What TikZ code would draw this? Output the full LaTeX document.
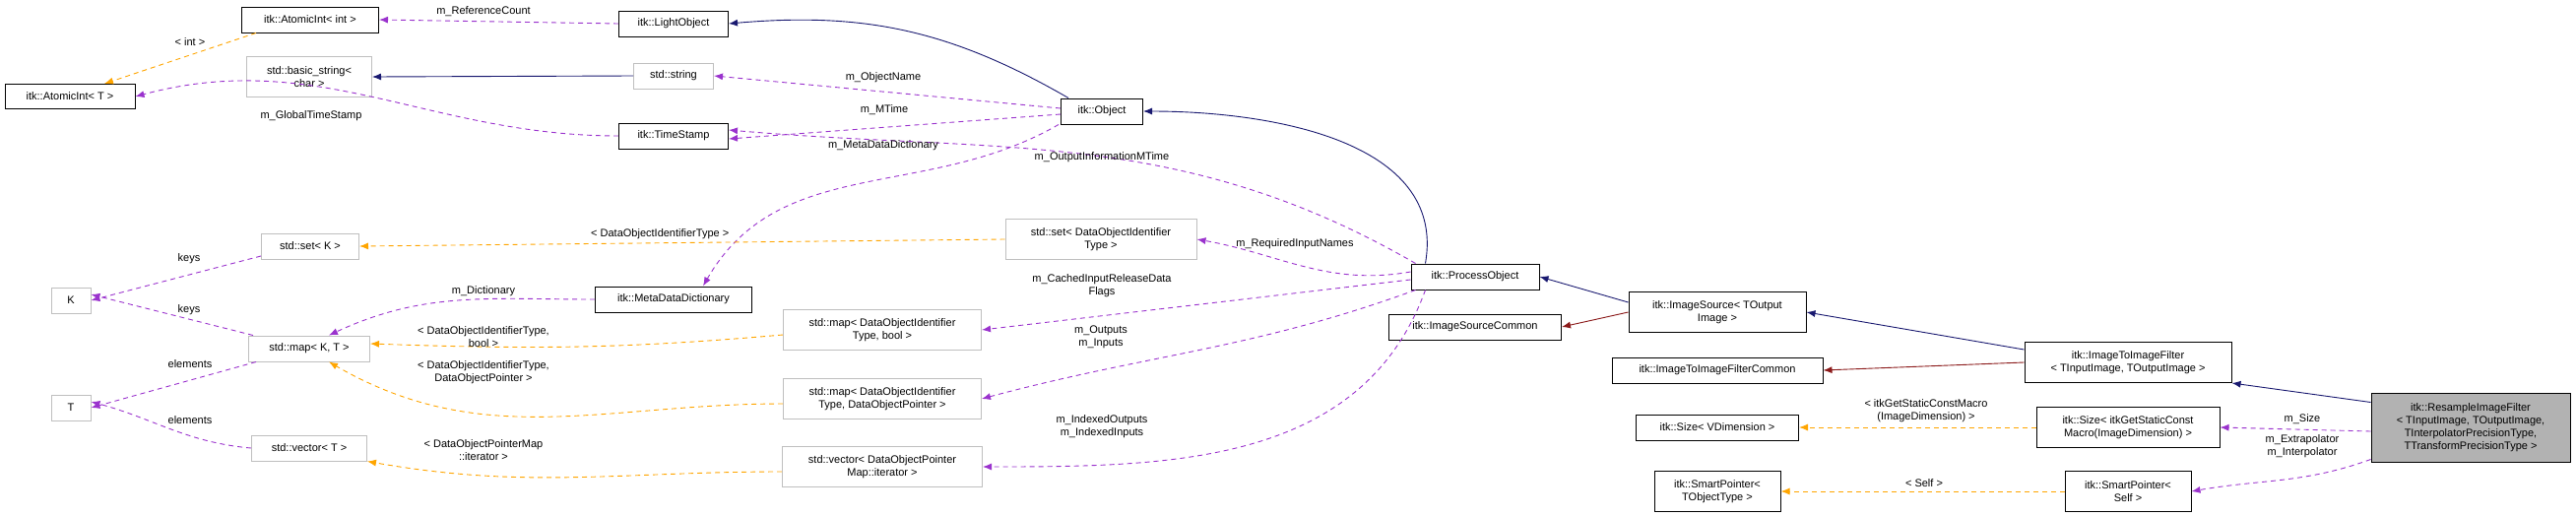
\documentclass[tikz,border=0pt]{standalone}
\usepackage{fontspec}
\setmainfont{Liberation Sans}
\usetikzlibrary{arrows.meta}

\definecolor{inhcol}{RGB}{25,25,112}
\definecolor{privcol}{RGB}{139,26,26}
\definecolor{usecol}{RGB}{154,50,205}
\definecolor{tplcol}{RGB}{255,165,0}

\tikzset{
  box/.style={draw=black, line width=1pt, inner sep=1pt, align=center, font=\fontsize{11}{13}\selectfont},
  gbox/.style={box, draw=black!25},
  hbox/.style={box, fill=black!30},
  lbl/.style={inner sep=0pt, align=center, font=\fontsize{11}{13}\selectfont},
  inh/.style={draw=inhcol, line width=0.9pt, -{Latex[length=9pt,width=7pt]}},
  priv/.style={draw=privcol, line width=0.9pt, -{Latex[length=9pt,width=7pt]}},
  use/.style={draw=usecol, line width=0.9pt, dash pattern=on 5pt off 4pt, -{Latex[length=9pt,width=7pt]}},
  tpl/.style={draw=tplcol, line width=0.9pt, dash pattern=on 5pt off 4pt, -{Latex[length=9pt,width=7pt]}}
}

\begin{document}
\begin{tikzpicture}[x=1pt,y=-1pt]
\useasboundingbox (0,0) rectangle (2616,523);

% left column
\node[box, minimum width=132, minimum height=25] (aiT) at (71,98) {itk::AtomicInt< T >};
\node[gbox, minimum width=40, minimum height=26] (K) at (72,305) {K};
\node[gbox, minimum width=40, minimum height=26] (T) at (72,414) {T};

\node[box, minimum width=139, minimum height=26] (aiInt) at (315,20) {itk::AtomicInt< int >};
\node[gbox, minimum width=127, minimum height=41] (bstr) at (314,78) {std::basic\_string<\\char >};
\node[gbox, minimum width=99, minimum height=26] (setK) at (315,250) {std::set< K >};
\node[gbox, minimum width=123, minimum height=26] (mapKT) at (314,354) {std::map< K, T >};
\node[gbox, minimum width=117, minimum height=26] (vecT) at (314,455) {std::vector< T >};

% middle
\node[box, minimum width=111, minimum height=26] (light) at (684,24) {itk::LightObject};
\node[gbox, minimum width=81, minimum height=26] (str) at (684,77) {std::string};
\node[box, minimum width=111, minimum height=26] (tstamp) at (684,138) {itk::TimeStamp};
\node[box, minimum width=159, minimum height=26] (mdd) at (684,304) {itk::MetaDataDictionary};

\node[box, minimum width=83, minimum height=26] (obj) at (1119,113) {itk::Object};
\node[gbox, minimum width=194, minimum height=41] (setDOI) at (1118,243) {std::set< DataObjectIdentifier\\Type >};
\node[gbox, minimum width=201, minimum height=41] (mapBool) at (896,335) {std::map< DataObjectIdentifier\\Type, bool >};
\node[gbox, minimum width=201, minimum height=41] (mapPtr) at (896,405) {std::map< DataObjectIdentifier\\Type, DataObjectPointer >};
\node[gbox, minimum width=203, minimum height=41] (vecDOP) at (896,474) {std::vector< DataObjectPointer\\Map::iterator >};

% right
\node[box, minimum width=130, minimum height=26] (po) at (1498,281) {itk::ProcessObject};
\node[box, minimum width=175, minimum height=26] (isc) at (1498,332) {itk::ImageSourceCommon};
\node[box, minimum width=180, minimum height=41] (isrc) at (1744,317) {itk::ImageSource< TOutput\\Image >};
\node[box, minimum width=214, minimum height=26] (iifc) at (1744,376) {itk::ImageToImageFilterCommon};
\node[box, minimum width=165, minimum height=26] (sizeV) at (1744,434) {itk::Size< VDimension >};
\node[box, minimum width=128, minimum height=41] (spT) at (1744,499) {itk::SmartPointer<\\TObjectType >};
\node[box, minimum width=210, minimum height=41] (iif) at (2161,368) {itk::ImageToImageFilter\\< TInputImage, TOutputImage >};
\node[box, minimum width=186, minimum height=41] (sizeI) at (2161,434) {itk::Size< itkGetStaticConst\\Macro(ImageDimension) >};
\node[box, minimum width=128, minimum height=41] (spS) at (2161,499) {itk::SmartPointer<\\Self >};
\node[hbox, minimum width=202, minimum height=70] (rif) at (2509,434) {itk::ResampleImageFilter\\< TInputImage, TOutputImage,\\TInterpolatorPrecisionType,\\TTransformPrecisionType >};

% inheritance
\draw[inh] (rif.north west) ++(0,10) -- (iif.south east);
\draw[inh] (iif.north west) ++(0,8) -- (isrc.east);
\draw[priv] (iif.west) -- (iifc.east);
\draw[inh] (isrc.west) ++(0,-10) -- (po.east);
\draw[priv] (isrc.west) ++(0,0) -- (isc.east);
\draw[inh] (po.north west) ++(15,0) to[out=80,in=0] (obj.east);
\draw[inh] (obj.north west) ++(8,0) to[out=150,in=5] (light.east);
\draw[inh] (str.west) -- (bstr.east);

% members
\draw[use] (rif.west) ++(0,4) -- (sizeI.east);
\draw[use] (rif.south west) ++(0,-3) to[out=200,in=10] (spS.east);
\draw[use] (po.west) ++(0,-5) to[out=190,in=-10] (setDOI.east);
\draw[use] (po.west) ++(0,3) -- (mapBool.east);
\draw[use] (po.south west) ++(5,0) to[out=200,in=15] (mapPtr.east);
\draw[use] (po.south west) ++(15,0) to[out=250,in=0] (vecDOP.east);
\draw[use] (po.north west) ++(5,0) to[out=150,in=-5] ([yshift=6]tstamp.east);
\draw[use] (obj.west) ++(0,-3) -- (str.east);
\draw[use] (obj.west) ++(0,3) -- ([yshift=-3]tstamp.east);
\draw[use] (obj.south west) ++(-2,0) to[out=210,in=60] ([xshift=-50]mdd.north east);
\draw[use] (light.west) -- (aiInt.east);
\draw[use] (tstamp.west) to[out=180,in=15] (aiT.east);
\draw[use] (mdd.west) to[out=180,in=25] ([xshift=20]mapKT.north);
\draw[use] (setK.west) ++(0,10) -- (K.east);
\draw[use] (mapKT.north west) ++(5,0) -- ([yshift=6]K.east);
\draw[use] (mapKT.south west) ++(8,0) -- (T.east);
\draw[use] (vecT.west) to[out=175,in=-15] ([yshift=6]T.east);

% templates
\draw[tpl] (sizeI.west) -- (sizeV.east);
\draw[tpl] (spS.west) -- (spT.east);
\draw[tpl] (aiInt.south west) ++(15,0) -- ([xshift=35]aiT.north);
\draw[tpl] (setDOI.west) -- (setK.east);
\draw[tpl] (mapBool.west) ++(0,5) to[out=185,in=-2] ([yshift=5]mapKT.east);
\draw[tpl] (mapPtr.west) ++(0,5) to[out=180,in=-30] ([xshift=20]mapKT.south);
\draw[tpl] (vecDOP.west) ++(0,5) to[out=180,in=-10] (vecT.south east);

% labels
\node[lbl] (lRef) at (491,12) {m\_ReferenceCount};
\node[lbl] (lInt) at (193,43) {< int >};
\node[lbl] (lGTS) at (316,118) {m\_GlobalTimeStamp};
\node[lbl] (lKeysA) at (192,263) {keys};
\node[lbl] (lKeysB) at (192,315) {keys};
\node[lbl] (lElA) at (193,370) {elements};
\node[lbl] (lElB) at (193,427) {elements};
\node[lbl] (lDict) at (491,296) {m\_Dictionary};
\node[lbl] (lBool) at (491,342) {< DataObjectIdentifierType,\\bool >};
\node[lbl] (lPtr) at (491,378) {< DataObjectIdentifierType,\\DataObjectPointer >};
\node[lbl] (lIter) at (491,457) {< DataObjectPointerMap\\::iterator >};
\node[lbl, anchor=west] (lSet) at (600,238) {< DataObjectIdentifierType >};
\node[lbl] (lName) at (897,79) {m\_ObjectName};
\node[lbl] (lMT) at (898,112) {m\_MTime};
\node[lbl] (lMDD) at (897,148) {m\_MetaDataDictionary};
\node[lbl] (lOIM) at (1119,160) {m\_OutputInformationMTime};
\node[lbl] (lReq) at (1315,248) {m\_RequiredInputNames};
\node[lbl] (lCache) at (1119,290) {m\_CachedInputReleaseData\\Flags};
\node[lbl] (lOut) at (1118,342) {m\_Outputs\\m\_Inputs};
\node[lbl] (lIdx) at (1119,433) {m\_IndexedOutputs\\m\_IndexedInputs};
\node[lbl] (lMacro) at (1956,417) {< itkGetStaticConstMacro\\(ImageDimension) >};
\node[lbl] (lSize) at (2338,426) {m\_Size};
\node[lbl] (lInterp) at (2338,453) {m\_Extrapolator\\m\_Interpolator};
\node[lbl] (lSelf) at (1954,491) {< Self >};
\end{tikzpicture}
\end{document}
